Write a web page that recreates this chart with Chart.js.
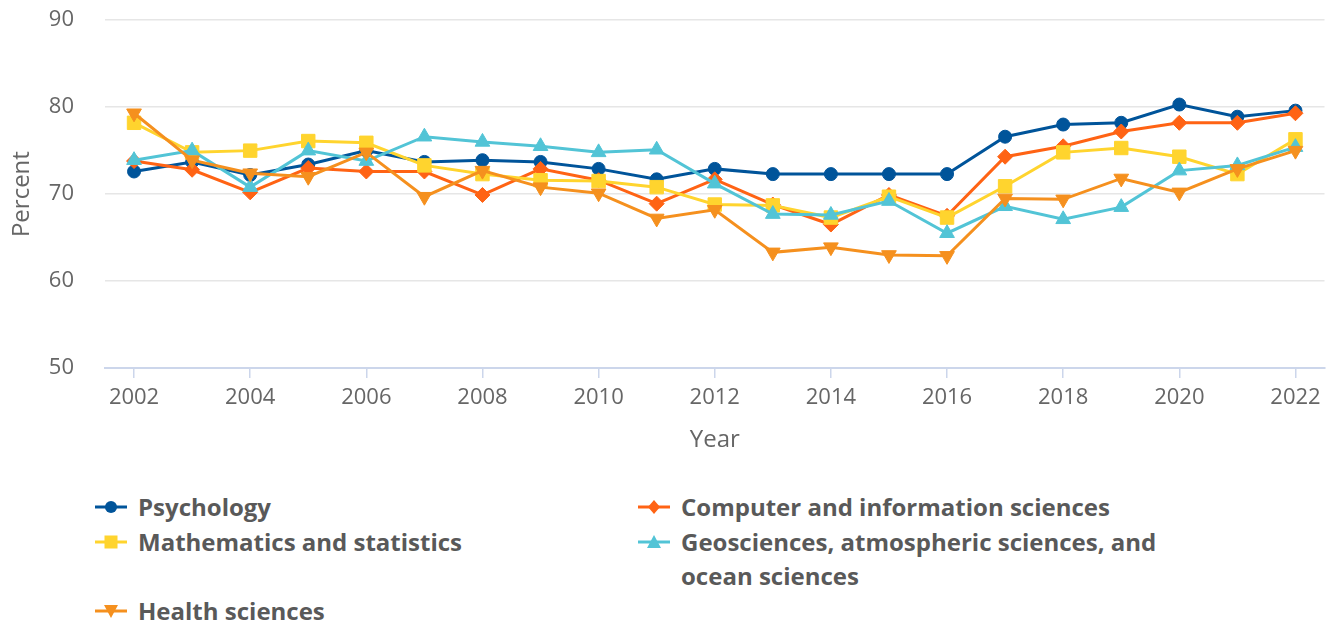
<!DOCTYPE html>
<html>
<head>
<meta charset="utf-8">
<script src="https://cdn.jsdelivr.net/npm/chart.js@4"></script>
<style>
  html, body { margin: 0; padding: 0; background: #fff; }
  body { width: 1335px; height: 623px; position: relative; overflow: hidden; font-family: "Open Sans", sans-serif; }
  #wrap { position: absolute; left: 0; top: 0; width: 1335px; height: 470px; }
  #legend { position: absolute; left: 0; top: 490px; width: 1335px; }
  .item { position: absolute; display: flex; align-items: flex-start; font-weight: bold; font-size: 24px; line-height: 34.5px; color: #595959; }
  .item svg { flex: none; margin-top: 8px; margin-right: 11px; }
</style>
</head>
<body>
<div id="wrap"><canvas id="grafico"></canvas></div>
<div id="legend"></div>
<script>
// ---- dados ----
const anos = [2002, 2003, 2004, 2005, 2006, 2007, 2008, 2009, 2010, 2011, 2012,
              2013, 2014, 2015, 2016, 2017, 2018, 2019, 2020, 2021, 2022];
const anosRotulo = [2002, 2004, 2006, 2008, 2010, 2012, 2014, 2016, 2018, 2020, 2022];
const ticksY = [50, 60, 70, 80, 90];

const psicologia = [72.6, 73.7, 72.2, 73.4, 75.0, 73.7, 73.9, 73.7, 72.9, 71.7, 72.9,
                    72.3, 72.3, 72.3, 72.3, 76.6, 78.0, 78.2, 80.3, 78.9, 79.6];
const computacao = [73.8, 72.8, 70.2, 73.0, 72.6, 72.6, 69.9, 72.9, 71.6, 68.9, 71.7,
                    68.8, 66.5, 69.9, 67.5, 74.3, 75.5, 77.2, 78.2, 78.2, 79.3];
const matematica = [78.2, 74.8, 75.0, 76.1, 75.9, 73.3, 72.3, 71.6, 71.5, 70.8, 68.8,
                    68.7, 67.3, 69.7, 67.3, 70.9, 74.8, 75.3, 74.3, 72.3, 76.3];
const geociencias = [73.9, 75.0, 70.8, 75.0, 73.8, 76.6, 76.0, 75.5, 74.8, 75.1, 71.2,
                     67.7, 67.6, 69.2, 65.5, 68.6, 67.1, 68.5, 72.7, 73.3, 75.4];
const saude = [79.3, 73.9, 72.4, 72.0, 74.8, 69.7, 72.7, 70.8, 70.1, 67.2, 68.2,
               63.3, 63.9, 63.0, 62.9, 69.5, 69.4, 71.8, 70.2, 72.9, 75.0];

const nomes = [
  "Psychology",
  "Computer and information sciences",
  "Mathematics and statistics",
  "Geosciences, atmospheric sciences, and ocean sciences",
  "Health sciences"
];
const cores = ["#00549a", "#ff6314", "#ffd42e", "#52c4d6", "#f5901e"];
const simbolos = ["circle", "rectRot", "rect", "triangle", "triangle"];
const raios = [6.5, 7.5, 9.5, 8.5, 8.5];
const rotacoes = [0, 0, 0, 0, 180];
const series = [psicologia, computacao, matematica, geociencias, saude];

// ---- grafico ----
const ALTURA = 470;
const EIXO_X_Y = 368;

const datasets = series.map((valores, i) => ({
  label: nomes[i],
  data: valores.map((v, k) => ({ x: anos[k], y: v })),
  borderColor: cores[i],
  backgroundColor: cores[i],
  borderWidth: 3,
  pointStyle: simbolos[i],
  pointRadius: raios[i],
  pointHoverRadius: raios[i],
  pointRotation: rotacoes[i],
  pointBorderWidth: 1,
  pointBorderColor: cores[i],
  pointBackgroundColor: cores[i],
  tension: 0,
  order: series.length - i
}));

new Chart(document.getElementById("grafico"), {
  type: "line",
  data: { datasets },
  options: {
    responsive: true,
    maintainAspectRatio: false,
    animation: false,
    layout: { padding: { left: 0, right: 10, top: 0, bottom: 0 } },
    plugins: { legend: { display: false }, tooltip: { enabled: false } },
    scales: {
      x: {
        type: "linear",
        min: 2001.5,
        max: 2022.5,
        afterBuildTicks: s => { s.ticks = anosRotulo.map(v => ({ value: v })); },
        afterFit: s => { s.height = ALTURA - EIXO_X_Y; },
        ticks: {
          callback: v => String(v),
          color: "#666",
          font: { family: "Open Sans", size: 22 },
          padding: 7,
          maxRotation: 0,
          autoSkip: false
        },
        grid: { drawOnChartArea: false, drawTicks: true, tickLength: 10, color: "#ccd6eb", lineWidth: 1.5 },
        border: { display: true, color: "#ccd6eb", width: 2 },
        title: {
          display: true,
          text: "Year",
          color: "#666",
          font: { family: "Open Sans", size: 24 },
          padding: { top: 0, bottom: 15.6 }
        }
      },
      y: {
        min: 50,
        max: 90,
        afterBuildTicks: s => { s.ticks = ticksY.map(v => ({ value: v })); },
        afterFit: s => { s.width = 105; },
        ticks: {
          color: "#666",
          font: { family: "Open Sans", size: 22 },
          padding: 7
        },
        grid: { color: "#e6e6e6", lineWidth: 1.5, drawTicks: true, tickLength: 24, tickColor: "rgba(0,0,0,0)" },
        border: { display: false },
        title: {
          display: true,
          text: "Percent",
          color: "#666",
          font: { family: "Open Sans", size: 24 },
          padding: { top: 7.6, bottom: 0 }
        }
      }
    }
  }
});

// ---- legenda (html, para quebrar linha) ----
function simboloSVG(i) {
  const c = cores[i];
  let m = "";
  if (simbolos[i] === "circle") m = `<circle cx="16" cy="9" r="6" fill="${c}"/>`;
  else if (simbolos[i] === "rectRot") m = `<polygon points="16,2 22,9 16,16 10,9" fill="${c}"/>`;
  else if (simbolos[i] === "rect") m = `<rect x="9.5" y="2.5" width="13" height="13" fill="${c}"/>`;
  else if (rotacoes[i] === 180) m = `<polygon points="9,3 23,3 16,16" fill="${c}"/>`;
  else m = `<polygon points="16,2 23,15 9,15" fill="${c}"/>`;
  return `<svg width="32" height="18" viewBox="0 0 32 18"><line x1="0" y1="9" x2="32" y2="9" stroke="${c}" stroke-width="3"/>${m}</svg>`;
}

const posicoes = [
  { left: 95, top: 0 },
  { left: 638, top: 0 },
  { left: 95, top: 34.5 },
  { left: 638, top: 34.5 },
  { left: 95, top: 103.5 }
];
const legenda = document.getElementById("legend");
nomes.forEach((nome, i) => {
  const div = document.createElement("div");
  div.className = "item";
  div.style.left = posicoes[i].left + "px";
  div.style.top = posicoes[i].top + "px";
  div.style.width = (i % 2 === 1 && i < 4 ? 530 : 520) + "px";
  div.innerHTML = simboloSVG(i) + `<span>${nome}</span>`;
  legenda.appendChild(div);
});
</script>
</body>
</html>
